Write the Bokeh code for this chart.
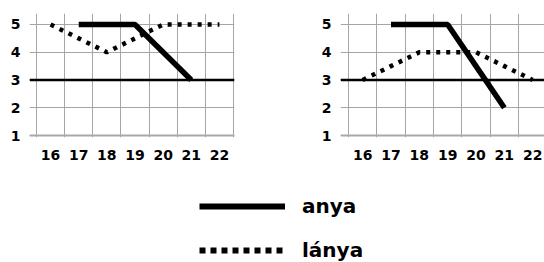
import numpy as np
from bokeh.plotting import figure
from bokeh.models import FixedTicker, Span, Legend, LegendItem, Range1d
from bokeh.layouts import row, column
from bokeh.embed import file_html
from bokeh.resources import INLINE

# ---- data ----
ages = [16, 17, 18, 19, 20, 21, 22]
left_anya = [np.nan, 5, 5, 5, 4, 3, np.nan]
left_lanya = [5, 4.5, 4, 4.5, 5, 5, 5]
right_anya = [np.nan, 5, 5, 5, 3.5, 2, np.nan]
right_lanya = [3, 3.5, 4, 4, 4, 3.5, 3]
y_ticks = [1, 2, 3, 4, 5]
series_names = ["anya", "lánya"]
cross_value = 3
base_value = 1

FONT = "DejaVu Sans"
GRID = "#a6a6a6"


def make_chart(anya, lanya, width, b_left, b_right, x_start, x_end):
    p = figure(width=width, height=173, output_backend="svg", toolbar_location=None,
               x_range=Range1d(x_start, x_end), y_range=Range1d(0.928, 5.396),
               min_border_left=b_left, min_border_right=b_right,
               min_border_top=13, min_border_bottom=36)
    p.outline_line_color = None
    p.xaxis.ticker = FixedTicker(ticks=ages)
    p.yaxis.ticker = FixedTicker(ticks=y_ticks)
    p.xgrid.ticker = FixedTicker(ticks=[a - 0.5 for a in ages] + [ages[-1] + 0.5])
    p.ygrid.ticker = FixedTicker(ticks=y_ticks)
    for g in (p.xgrid, p.ygrid):
        g.grid_line_color = GRID
        g.grid_line_width = 1
    for ax in (p.xaxis, p.yaxis):
        ax.axis_line_color = None
        ax.major_tick_line_color = None
        ax.minor_tick_line_color = None
        ax.major_tick_out = 0
        ax.major_tick_in = 0
        ax.major_label_text_font = FONT
        ax.major_label_text_font_style = "bold"
        ax.major_label_text_font_size = "14px"
        ax.major_label_text_color = "black"
    p.xaxis.major_label_standoff = 12
    p.yaxis.major_label_standoff = 9
    p.add_layout(Span(location=base_value, dimension="width", line_color="#a8a8a8", line_width=2))
    p.add_layout(Span(location=cross_value, dimension="width", line_color="black", line_width=2.5))
    p.line(ages, lanya, line_width=4.5, line_dash="4 6", color="black")
    p.line(ages, anya, line_width=5.5, color="black")
    return p


p1 = make_chart(left_anya, left_lanya, 258, 29, 24, 15.251, 22.536)
p2 = make_chart(right_anya, right_lanya, 286, 82, 0, 15.218, 22.418)

# legend panel: sample renderers use the real series but lie outside this panel's ranges
p3 = figure(width=544, height=89, output_backend="svg", toolbar_location=None,
            min_border=0, x_axis_location=None, y_axis_location=None,
            x_range=Range1d(0, 1), y_range=Range1d(0, 1))
p3.outline_line_color = None
p3.grid.visible = False
r1 = p3.line(ages, left_anya, line_width=6, color="black")
r2 = p3.line(ages, left_lanya, line_width=6, line_dash="6 5", color="black")
legend = Legend(items=[LegendItem(label=series_names[0], renderers=[r1]),
                       LegendItem(label=series_names[1], renderers=[r2])],
                location=(199, 0), glyph_width=86, glyph_height=22, label_height=22,
                spacing=20, padding=0, margin=0, label_standoff=17,
                border_line_color=None, background_fill_alpha=0,
                label_text_font=FONT, label_text_font_style="bold",
                label_text_font_size="20px", label_text_color="black")
p3.add_layout(legend)

layout = column(row(p1, p2), p3)

with open("out.html", "w", encoding="utf-8") as f:
    f.write(file_html(layout, INLINE))
